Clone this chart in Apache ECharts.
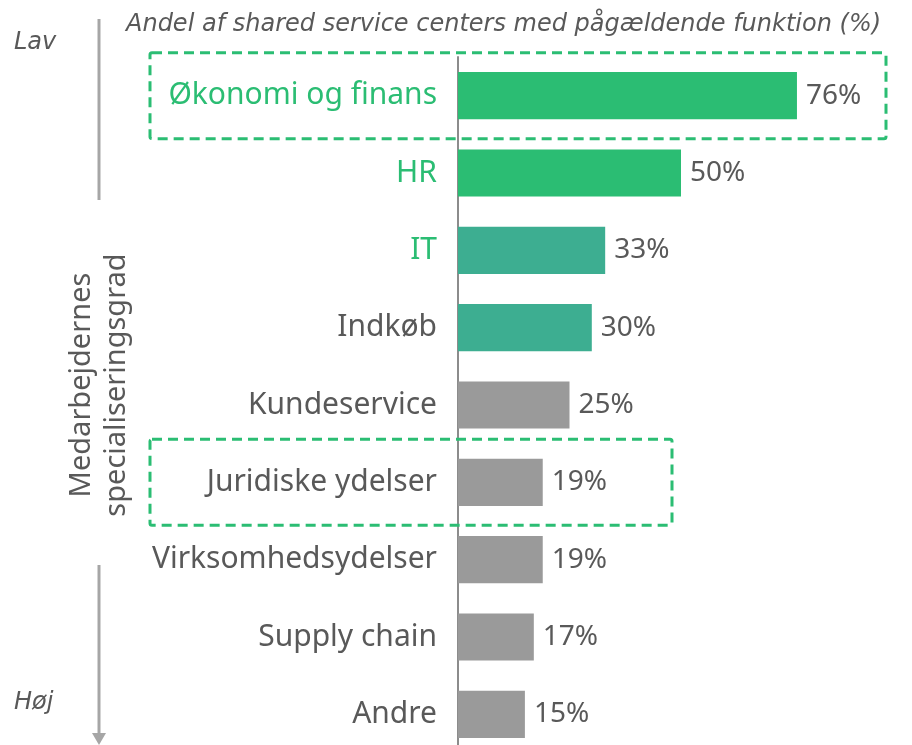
<!DOCTYPE html>
<html>
<head>
<meta charset="utf-8">
<script src="https://cdn.jsdelivr.net/npm/echarts@6/dist/echarts.min.js"></script>
<style>
  html, body { margin: 0; padding: 0; background: #fff; }
  #chart { width: 912px; height: 745px; }
</style>
</head>
<body>
<div id="chart"></div>
<script>
// data
const categories = ["Økonomi og finans", "HR", "IT", "Indkøb", "Kundeservice",
  "Juridiske ydelser", "Virksomhedsydelser", "Supply chain", "Andre"];
const values = [76, 50, 33, 30, 25, 19, 19, 17, 15];
const barColors = ["#2BBD73", "#2BBD73", "#3DAE91", "#3DAE91", "#9A9A9A",
  "#9A9A9A", "#9A9A9A", "#9A9A9A", "#9A9A9A"];
const greenLabels = ["Økonomi og finans", "HR", "IT"];
const highlighted = ["Økonomi og finans", "Juridiske ydelser"];

const GREEN = "#2BBD73";
const TEXT = "#595959";
const FONT = "Noto Sans";
const ITALIC = "italic 24px 'DejaVu Sans'";

const chart = echarts.init(document.getElementById("chart"));

const option = {
  animation: false,
  grid: {
    left: 458,
    right: 8,
    top: 57,
    height: 696,
    outerBoundsMode: "none",
    containLabel: false
  },
  xAxis: {
    type: "value",
    min: 0,
    max: 100,
    show: false
  },
  yAxis: {
    type: "category",
    inverse: true,
    data: categories,
    axisLine: { show: true, lineStyle: { color: "#8C8C8C", width: 2 } },
    axisTick: { show: false },
    axisLabel: {
      margin: 21,
      fontFamily: FONT,
      fontSize: 30,
      color: TEXT,
      formatter: function (v) {
        return greenLabels.indexOf(v) >= 0 ? "{g|" + v + "}" : v;
      },
      rich: {
        g: { color: GREEN, fontFamily: FONT, fontSize: 30 }
      }
    }
  },
  series: [
    {
      type: "bar",
      data: values.map((v, i) => ({ value: v, itemStyle: { color: barColors[i] } })),
      barCategoryGap: "39%",
      label: {
        show: true,
        position: "right",
        distance: 9,
        fontFamily: FONT,
        fontSize: 28,
        color: TEXT,
        formatter: "{c}%"
      }
    }
  ],
  graphic: [
    {
      type: "text",
      left: 126,
      top: 13,
      style: {
        text: "Andel af shared service centers med pågældende funktion (%)",
        font: ITALIC,
        fill: TEXT
      }
    },
    {
      type: "text",
      left: 14,
      top: 31,
      style: { text: "Lav", font: ITALIC, fill: TEXT }
    },
    {
      type: "text",
      left: 14,
      top: 691,
      style: { text: "Høj", font: ITALIC, fill: TEXT }
    },
    {
      type: "line",
      shape: { x1: 99, y1: 19, x2: 99, y2: 200 },
      style: { stroke: "#A6A6A6", lineWidth: 3 }
    },
    {
      type: "line",
      shape: { x1: 99, y1: 565, x2: 99, y2: 734 },
      style: { stroke: "#A6A6A6", lineWidth: 3 }
    },
    {
      type: "polygon",
      shape: { points: [[92, 733], [106, 733], [99, 745]] },
      style: { fill: "#A6A6A6" }
    },
    {
      type: "text",
      x: 99,
      y: 385,
      rotation: Math.PI / 2,
      style: {
        text: "Medarbejdernes\nspecialiseringsgrad",
        font: "29px 'Noto Sans'",
        lineHeight: 35,
        fill: TEXT,
        align: "center",
        verticalAlign: "middle"
      }
    }
  ]
};

chart.setOption(option);

// dashed highlight boxes around the chosen categories
const boxRight = { "Økonomi og finans": 886, "Juridiske ydelser": 672 };
const boxes = highlighted.map(function (name) {
  const cy = chart.convertToPixel({ yAxisIndex: 0 }, name);
  return {
    type: "rect",
    shape: { x: 150, y: cy - 43, width: boxRight[name] - 150, height: 86, r: 2 },
    style: { fill: null, stroke: GREEN, lineWidth: 3, lineDash: [10, 6] },
    z: 10
  };
});
chart.setOption({ graphic: option.graphic.concat(boxes) });
</script>
</body>
</html>
